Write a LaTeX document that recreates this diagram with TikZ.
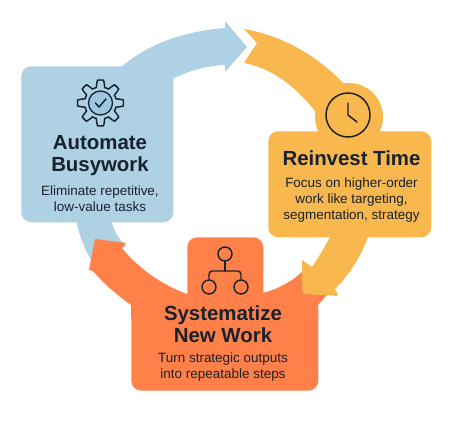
\documentclass[tikz,border=0pt]{standalone}
\usepackage{fontspec}
\setmainfont{Liberation Sans}
\definecolor{busyblue}{HTML}{AED1E4}
\definecolor{gearblue}{HTML}{9FC6E0}
\definecolor{timeyellow}{HTML}{F8B84E}
\definecolor{workorange}{HTML}{FF8149}
\definecolor{inkdark}{HTML}{18222F}
\usetikzlibrary{positioning}

\begin{document}
\begin{tikzpicture}[
        x=0.75pt, y=-0.75pt,
        node distance=1pt,
        card/.style={rounded corners=7.5pt, inner sep=0pt, minimum width=#1},
        cardtitle/.style={font=\fontsize{15.3}{16.5}\selectfont\bfseries, text=inkdark, align=center, inner sep=0pt},
        cardtext/.style={font=\fontsize{10.1}{12.3}\selectfont, text=inkdark, align=center, inner sep=0pt},
        iconline/.style={draw=inkdark, line width=1.1pt, line cap=round, line join=round},
        iconring/.style={iconline, circle, inner sep=0pt, minimum size=10.5pt},
    ]
    \useasboundingbox (0,0) rectangle (458,423);

    % === Blue: Automate ===
    \fill[busyblue] (75,215) .. controls (78,232) and (84,248) .. (92,262) -- (126,246)
        .. controls (118,238) and (113,230) .. (110,215) -- cycle;
    \fill[busyblue] (118,70) .. controls (148,42) and (188,31) .. (225,28) -- (225,21) -- (247,47)
        -- (225,72) -- (225,65) .. controls (205,66) and (188,71) .. (170,80) -- cycle;
    \node[card=152*0.75pt, fill=busyblue, minimum height=117pt, anchor=north west] (automate) at (21,66) {};

    \node[cardtitle] (automatetitle) at (100,156) {Automate\\Busywork};
    \node[cardtext, below=6.5pt of automatetitle] (automatetext) {Eliminate repetitive,\\low-value tasks};

    % gear
    \fill[gearblue] (100.5,103) circle (12);
    \draw[iconline, line width=1pt] (100.5,103) circle (12);
    \draw[iconline, shift={(100.5,103)}] plot[domain=0:360, samples=145, smooth] (\x:{19.5+3.5*max(-1,min(1,2*cos(8*\x)))}) -- cycle;
    \draw[iconline] (95.5,103) -- (99,107) -- (106,99);

    % === Orange: Systematize ===
    \fill[workorange] (131,318) -- (131,305) .. controls (117,295) and (104,284) .. (93,271) -- (89,270)
        -- (95,239) -- (126,243) -- (122,248) .. controls (138,268) and (162,285) .. (187,294)
        -- (263,293) .. controls (278,289) and (291,282) .. (302,272) -- (335,290) -- (327,295) -- (318,305) -- (318,318) -- cycle;
    \node[card=76*0.75pt, fill=workorange, minimum height=51pt, anchor=north west] (worktab) at (187,237) {};
    \node[card=187*0.75pt, fill=workorange, minimum height=68pt, anchor=south west] (systematize) at (131,391) {};

    \node[cardtitle] (systematizetitle) at (223,324) {Systematize\\New Work};
    \node[cardtext, below=7pt of systematizetitle] (systematizetext) {Turn strategic outputs\\into repeatable steps};

    % hierarchy
    \node[iconring] (rootring) at (225,254) {};
    \node[iconring] (leftring) at (209,287) {};
    \node[iconring] (rightring) at (241,287) {};
    \coordinate (hub) at (225,271);
    \draw[iconline] (rootring) -- (hub);
    \draw[iconline, rounded corners=2.5pt] (leftring.north) |- (hub) -| (rightring.north);

    % === Yellow: Reinvest ===
    \fill[timeyellow] (244,29) .. controls (285,36) and (320,58) .. (345,85) -- (318,115)
        .. controls (298,88) and (272,68) .. (244,63) -- (257,43) -- cycle;
    \fill[timeyellow] (349,117) circle (34);
    \fill[timeyellow] (330,230) -- (330,237) .. controls (325,246) and (319,257) .. (312,267) -- (302,260)
        -- (302,287) [rounded corners=2pt] -- (303,294) -- (339,296) [sharp corners] -- (335,289)
        .. controls (350,274) and (361,256) .. (368,237) -- (368,230) -- cycle;
    \node[card=163*0.75pt, fill=timeyellow, minimum height=79.5pt, anchor=north west] (reinvest) at (268,131) {};

    \node[cardtitle] (reinvesttitle) at (351.5,158) {Reinvest Time};
    \node[cardtext, below=8.5pt of reinvesttitle] (reinvesttext) {Focus on higher-order\\work like targeting,\\segmentation, strategy};

    % clock
    \node[iconring, minimum size=33pt] (clockface) at (348,115) {};
    \draw[iconline] (348,103) -- (clockface.center) -- (357,122);

\end{tikzpicture}
\end{document}
